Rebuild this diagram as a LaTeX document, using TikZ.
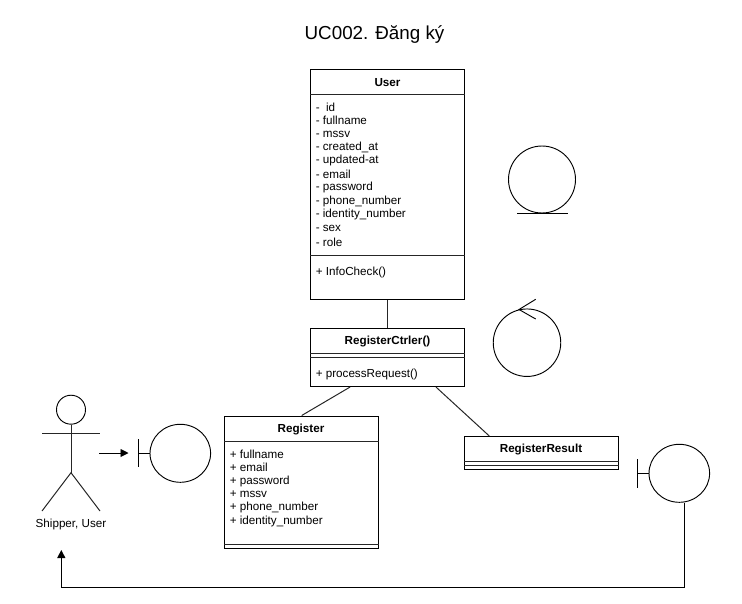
\documentclass[tikz,border=0pt]{standalone}
\usepackage{fontspec}
\setmainfont{Liberation Sans}
\usetikzlibrary{shapes.geometric,arrows.meta,calc}
\tikzset{
  x=0.75pt,y=-0.75pt,
  rule/.style={draw=black!85,line width=0.75pt},
  classbox/.style={draw=black,rectangle,inner sep=0pt,anchor=north west,line width=0.8pt},
  circ/.style={draw=black,ellipse,inner sep=0pt,line width=0.7pt},
  txt/.style={inner sep=0pt,font=\fontsize{8.75pt}{10pt}\selectfont,anchor=west},
  head/.style={inner sep=0pt,font=\fontsize{8.75pt}{10pt}\selectfont\bfseries},
  thin rule/.style={draw=black,line width=0.7pt},
  assoc/.style={draw=black!85,line width=0.75pt},
  tipped/.style={-{Triangle[length=6pt,width=6pt]},draw=black},
}
\begin{document}
\begin{tikzpicture}
\useasboundingbox (0,0) rectangle (742,603);
\node[inner sep=0pt,font=\fontsize{14.1pt}{16pt}\selectfont] (title) at (374.5,35) {UC002. Đăng ký};

% User
\node[classbox,minimum width=154*0.75pt,minimum height=230*0.75pt] (user) at (310,69) {};
\node[head] (userh) at (387.5,82.5) {User};
\draw[rule] (user.west |- 0,94.5) -- (user.east |- 0,94.5);
\draw[rule] (user.west |- 0,255.5) -- (user.east |- 0,255.5);
\node[txt] (u1) at (315.5,107) {-\ \ id};
\node[txt] (u2) at (315.5,120.5) {- fullname};
\node[txt] (u3) at (315.5,134) {- mssv};
\node[txt] (u4) at (315.5,147.3) {- created\_at};
\node[txt] (u5) at (315.5,160.8) {- updated-at};
\node[txt] (u6) at (315.5,174.2) {- email};
\node[txt] (u7) at (315.5,187.8) {- password};
\node[txt] (u8) at (315.5,201) {- phone\_number};
\node[txt] (u9) at (315.5,214.7) {- identity\_number};
\node[txt] (u10) at (315.5,228.2) {- sex};
\node[txt] (u11) at (315.5,242) {- role};
\node[txt] (u12) at (315.5,272) {+ InfoCheck()};

% Controller
\node[classbox,minimum width=154*0.75pt,minimum height=58*0.75pt] (ctrl) at (310,328) {};
\node[head] (ctrlh) at (387.5,342) {RegisterCtrler()};
\draw[rule] (ctrl.west |- 0,353.5) -- (ctrl.east |- 0,353.5);
\draw[rule] (ctrl.west |- 0,357.5) -- (ctrl.east |- 0,357.5);
\node[txt] (c1) at (315.5,374) {+ processRequest()};

% Register
\node[classbox,minimum width=154*0.75pt,minimum height=132.5*0.75pt] (reg) at (224,415.5) {};
\node[head] (regh) at (301,429.5) {Register};
\draw[rule] (reg.west |- 0,441.5) -- (reg.east |- 0,441.5);
\draw[rule] (reg.west |- 0,544.5) -- (reg.east |- 0,544.5);
\node[txt] (r1) at (229.5,454) {+ fullname};
\node[txt] (r2) at (229.5,467.5) {+ email};
\node[txt] (r3) at (229.5,481) {+ password};
\node[txt] (r4) at (229.5,494.3) {+ mssv};
\node[txt] (r5) at (229.5,507.8) {+ phone\_number};
\node[txt] (r6) at (229.5,521) {+ identity\_number};

% RegisterResult
\node[classbox,minimum width=154*0.75pt,minimum height=32.7*0.75pt] (res) at (464,436) {};
\node[head] (resh) at (541,449.5) {RegisterResult};
\draw[rule] (res.west |- 0,461.5) -- (res.east |- 0,461.5);
\draw[rule] (res.west |- 0,465.5) -- (res.east |- 0,465.5);

% Entity
\node[circ,minimum width=67*0.75pt,minimum height=67*0.75pt] (ent) at (542,179.5) {};
\draw[thin rule] (517,213) -- (568,213);

% Control
\node[circ,minimum width=67.5*0.75pt,minimum height=67.5*0.75pt] (con) at (527,342.7) {};
\draw[thin rule] (535.7,299.3) -- (519,309.5) -- (535.7,319);

% Actor
\node[circ,minimum width=29*0.75pt,minimum height=29*0.75pt] (ahead) at (71,409.7) {};
\coordinate (hip) at (71,472.7);
\coordinate (lfoot) at (42,511);
\coordinate (rfoot) at (100,511);
\draw[rule] (ahead.south) -- (hip);
\draw[rule] (42,433.7) -- (100,433.7);
\draw[rule] (lfoot) -- (hip) -- (rfoot);
\node[inner sep=0pt,font=\fontsize{8.75pt}{10pt}\selectfont] (alabel) at (71,524.5) {Shipper, User};

% Boundary 1
\node[circ,minimum width=60.6*0.75pt,minimum height=58*0.75pt] (b1) at (180.3,453.3) {};
\coordinate (b1bar) at (138,453.3);
\draw[thin rule] (138,439) -- (138,467);
\draw[thin rule] (b1bar) -- (b1.west);

% Boundary 2
\node[circ,minimum width=60.6*0.75pt,minimum height=58*0.75pt] (b2) at (679.3,473.3) {};
\coordinate (b2bar) at (637.3,473.3);
\draw[thin rule] (637.3,459) -- (637.3,488);
\draw[thin rule] (b2bar) -- (b2.west);

% Connectors
\draw[assoc] (user.south -| 387.7,0) -- (ctrl.north -| 387.7,0);
\draw[assoc] (ctrl.south -| 350,0) -- (reg.north -| 301.7,0);
\draw[assoc] (ctrl.south -| 436,0) -- (res.north -| 489.3,0);
\coordinate (astart) at (99.3,453);
\coordinate (aend) at (128.5,453);
\draw[tipped,line width=0.7pt] (astart) -- (aend);
\coordinate (retend) at (61.3,550);
\draw[tipped,line width=0.75pt] (b2.south -| 684,0) -- (684,587.3) -- (61.3,587.3) -- (retend);
\end{tikzpicture}
\end{document}
